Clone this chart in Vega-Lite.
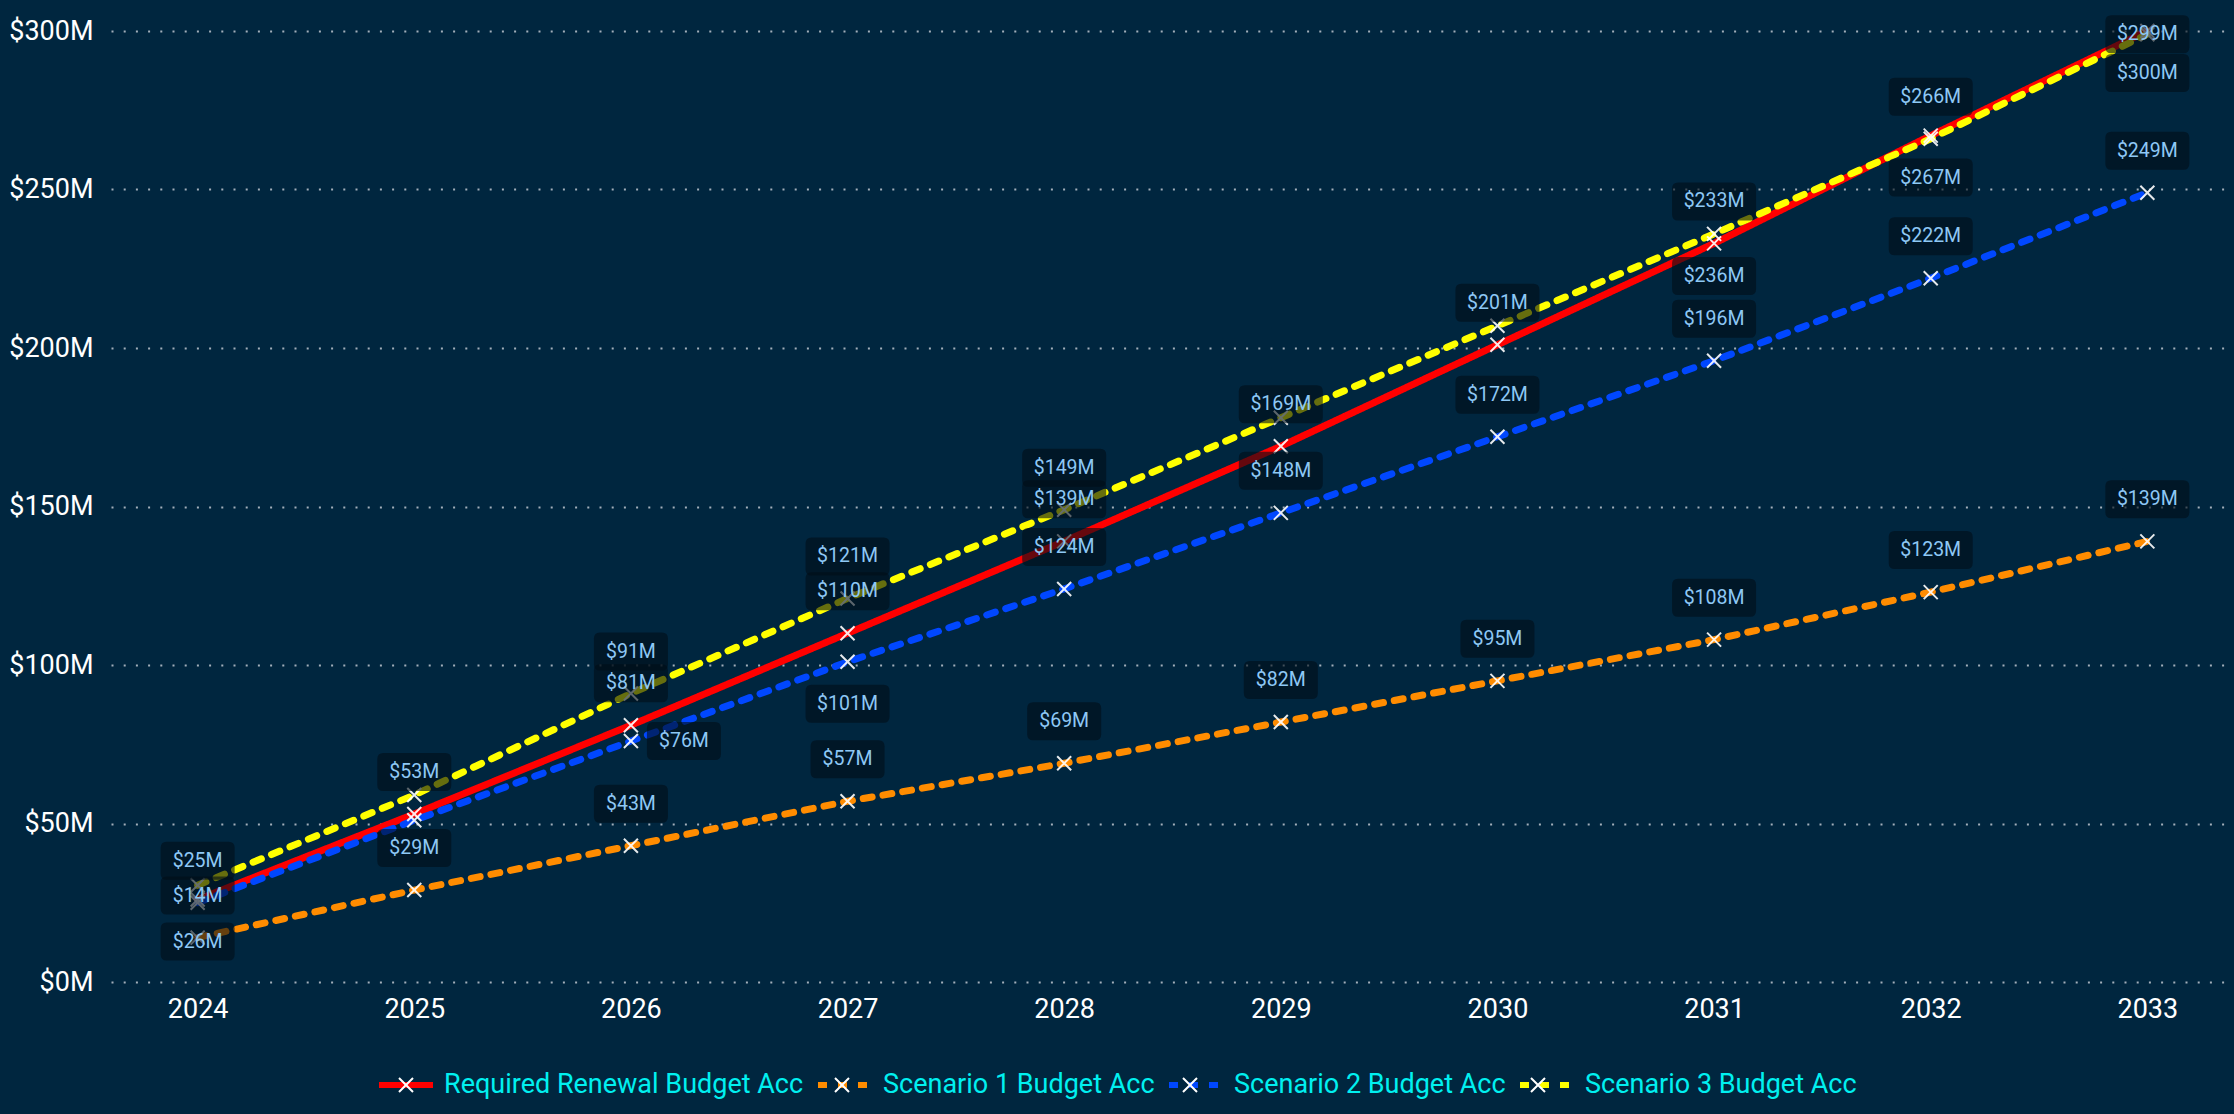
{
  "$schema": "https://vega.github.io/schema/vega-lite/v6.json",
  "width": 2123,
  "height": 951,
  "autosize": {"type": "none"},
  "padding": {"left": 111, "top": 31, "right": 0, "bottom": 132},
  "background": "#00263F",
  "config": {"view": {"stroke": null}, "font": "Roboto"},
  "data": {
    "values": [
      {"series": "Required Renewal Budget Acc", "year": "2024", "value": 26, "label": "$26M"},
      {"series": "Required Renewal Budget Acc", "year": "2025", "value": 53, "label": "$53M"},
      {"series": "Required Renewal Budget Acc", "year": "2026", "value": 81, "label": "$81M"},
      {"series": "Required Renewal Budget Acc", "year": "2027", "value": 110, "label": "$110M"},
      {"series": "Required Renewal Budget Acc", "year": "2028", "value": 139, "label": "$139M"},
      {"series": "Required Renewal Budget Acc", "year": "2029", "value": 169, "label": "$169M"},
      {"series": "Required Renewal Budget Acc", "year": "2030", "value": 201, "label": "$201M"},
      {"series": "Required Renewal Budget Acc", "year": "2031", "value": 233, "label": "$233M"},
      {"series": "Required Renewal Budget Acc", "year": "2032", "value": 267, "label": "$267M"},
      {"series": "Required Renewal Budget Acc", "year": "2033", "value": 300, "label": "$300M"},
      {"series": "Scenario 1 Budget Acc", "year": "2024", "value": 14, "label": "$14M"},
      {"series": "Scenario 1 Budget Acc", "year": "2025", "value": 29, "label": "$29M"},
      {"series": "Scenario 1 Budget Acc", "year": "2026", "value": 43, "label": "$43M"},
      {"series": "Scenario 1 Budget Acc", "year": "2027", "value": 57, "label": "$57M"},
      {"series": "Scenario 1 Budget Acc", "year": "2028", "value": 69, "label": "$69M"},
      {"series": "Scenario 1 Budget Acc", "year": "2029", "value": 82, "label": "$82M"},
      {"series": "Scenario 1 Budget Acc", "year": "2030", "value": 95, "label": "$95M"},
      {"series": "Scenario 1 Budget Acc", "year": "2031", "value": 108, "label": "$108M"},
      {"series": "Scenario 1 Budget Acc", "year": "2032", "value": 123, "label": "$123M"},
      {"series": "Scenario 1 Budget Acc", "year": "2033", "value": 139, "label": "$139M"},
      {"series": "Scenario 2 Budget Acc", "year": "2024", "value": 25, "label": "$25M"},
      {"series": "Scenario 2 Budget Acc", "year": "2025", "value": 51, "label": null},
      {"series": "Scenario 2 Budget Acc", "year": "2026", "value": 76, "label": "$76M"},
      {"series": "Scenario 2 Budget Acc", "year": "2027", "value": 101, "label": "$101M"},
      {"series": "Scenario 2 Budget Acc", "year": "2028", "value": 124, "label": "$124M"},
      {"series": "Scenario 2 Budget Acc", "year": "2029", "value": 148, "label": "$148M"},
      {"series": "Scenario 2 Budget Acc", "year": "2030", "value": 172, "label": "$172M"},
      {"series": "Scenario 2 Budget Acc", "year": "2031", "value": 196, "label": "$196M"},
      {"series": "Scenario 2 Budget Acc", "year": "2032", "value": 222, "label": "$222M"},
      {"series": "Scenario 2 Budget Acc", "year": "2033", "value": 249, "label": "$249M"},
      {"series": "Scenario 3 Budget Acc", "year": "2024", "value": 30.5, "label": null},
      {"series": "Scenario 3 Budget Acc", "year": "2025", "value": 59, "label": null},
      {"series": "Scenario 3 Budget Acc", "year": "2026", "value": 91, "label": "$91M"},
      {"series": "Scenario 3 Budget Acc", "year": "2027", "value": 121, "label": "$121M"},
      {"series": "Scenario 3 Budget Acc", "year": "2028", "value": 149, "label": "$149M"},
      {"series": "Scenario 3 Budget Acc", "year": "2029", "value": 178, "label": null},
      {"series": "Scenario 3 Budget Acc", "year": "2030", "value": 207, "label": null},
      {"series": "Scenario 3 Budget Acc", "year": "2031", "value": 236, "label": "$236M"},
      {"series": "Scenario 3 Budget Acc", "year": "2032", "value": 266, "label": "$266M"},
      {"series": "Scenario 3 Budget Acc", "year": "2033", "value": 299, "label": "$299M"}
    ]
  },
  "encoding": {
    "x": {
      "field": "year", "type": "ordinal",
      "scale": {"type": "point", "padding": 0.4},
      "axis": {"title": null, "labelAngle": 0, "labelFont": "Roboto", "labelFontSize": 27, "labelColor": "#FFFFFF", "labelPadding": 14, "ticks": false, "domain": false, "grid": false}
    },
    "y": {
      "field": "value", "type": "quantitative",
      "scale": {"domain": [0, 300], "nice": false},
      "axis": {"title": null, "values": [0, 50, 100, 150, 200, 250, 300], "labelExpr": "'$' + datum.value + 'M'", "labelFont": "Roboto", "labelFontSize": 27, "labelColor": "#FFFFFF", "labelPadding": 18, "labelLimit": 300, "ticks": false, "domain": false, "grid": true, "gridColor": "#C0C8D0", "gridDash": [2, 10.2], "gridWidth": 2, "gridOpacity": 0.85}
    }
  },
  "layer": [
    {
      "mark": {"type": "line", "strokeWidth": 7, "strokeCap": "round"},
      "encoding": {
        "color": {
          "field": "series", "type": "nominal",
          "scale": {"domain": ["Required Renewal Budget Acc", "Scenario 1 Budget Acc", "Scenario 2 Budget Acc", "Scenario 3 Budget Acc"], "range": ["#FF0000", "#FF8C00", "#0047FF", "#FFFF00"]},
          "legend": {"orient": "none", "legendX": 265, "legendY": 1024, "direction": "horizontal", "columns": 4, "title": null, "padding": 0, "labelFont": "Roboto", "labelFontSize": 27, "labelColor": "#00F0F0", "labelLimit": 1000, "labelOffset": 8, "columnPadding": 2, "symbolType": "stroke", "symbolSize": 2916, "symbolStrokeWidth": 6}
        },
        "strokeDash": {
          "field": "series", "type": "nominal",
          "scale": {"domain": ["Required Renewal Budget Acc", "Scenario 1 Budget Acc", "Scenario 2 Budget Acc", "Scenario 3 Budget Acc"], "range": [[1, 0], [9, 11], [9, 11], [9, 11]]}
        }
      }
    },
    {
      "mark": {"type": "point", "filled": false, "stroke": "#FFFFFF", "strokeWidth": 2, "size": 3364, "opacity": 0.9},
      "encoding": {
        "shape": {
          "field": "series", "type": "nominal",
          "scale": {"range": ["M-1.1,0L-1.1,0M1.1,0L1.1,0M-0.2414,-0.2414L0.2414,0.2414M-0.2414,0.2414L0.2414,-0.2414", "M-1.1,0L-1.1,0M1.1,0L1.1,0M-0.2414,-0.2414L0.2414,0.2414M-0.2414,0.2414L0.2414,-0.2414", "M-1.1,0L-1.1,0M1.1,0L1.1,0M-0.2414,-0.2414L0.2414,0.2414M-0.2414,0.2414L0.2414,-0.2414", "M-1.1,0L-1.1,0M1.1,0L1.1,0M-0.2414,-0.2414L0.2414,0.2414M-0.2414,0.2414L0.2414,-0.2414"]},
          "legend": {"orient": "none", "legendX": 265, "legendY": 1024, "direction": "horizontal", "columns": 4, "title": null, "padding": 0, "labelFont": "Roboto", "labelFontSize": 27, "labelOpacity": 0, "labelLimit": 1000, "labelOffset": 8, "columnPadding": 2, "symbolSize": 3364, "symbolStrokeWidth": 2, "symbolStrokeColor": "#FFFFFF", "symbolFillColor": "transparent", "symbolOpacity": 1}
        }
      }
    },
    {
      "transform": [{"filter": "datum.label != null && !((datum.series=='Required Renewal Budget Acc' && (datum.year=='2024'||datum.year=='2032'||datum.year=='2033')) || (datum.series=='Scenario 2 Budget Acc' && (datum.year=='2027'||datum.year=='2026')) || (datum.series=='Scenario 3 Budget Acc' && (datum.year=='2031'||datum.year=='2033')))"}],
      "layer": [
        {"mark": {"type": "point", "filled": true, "fill": "#000E18", "fillOpacity": 0.6, "opacity": 1, "strokeWidth": 0, "size": 1600, "yOffset": -42},
         "encoding": {"shape": {"condition": {"test": "datum.value >= 99.5", "value": "M-1.8,-0.95L1.8,-0.95Q2.1,-0.95 2.1,-0.65L2.1,0.65Q2.1,0.95 1.8,0.95L-1.8,0.95Q-2.1,0.95 -2.1,0.65L-2.1,-0.65Q-2.1,-0.95 -1.8,-0.95Z"}, "value": "M-1.55,-0.95L1.55,-0.95Q1.85,-0.95 1.85,-0.65L1.85,0.65Q1.85,0.95 1.55,0.95L-1.55,0.95Q-1.85,0.95 -1.85,0.65L-1.85,-0.65Q-1.85,-0.95 -1.55,-0.95Z"}}},
        {"mark": {"type": "text", "font": "Roboto", "fontSize": 19.5, "color": "#8EC8F5", "baseline": "middle", "align": "center", "yOffset": -42},
         "encoding": {"text": {"field": "label"}}}
      ]
    },
    {
      "transform": [{"filter": "(datum.series=='Required Renewal Budget Acc' && (datum.year=='2024'||datum.year=='2032'||datum.year=='2033')) || (datum.series=='Scenario 2 Budget Acc' && datum.year=='2027') || (datum.series=='Scenario 3 Budget Acc' && datum.year=='2031')"}],
      "layer": [
        {"mark": {"type": "point", "filled": true, "fill": "#000E18", "fillOpacity": 0.6, "opacity": 1, "strokeWidth": 0, "size": 1600, "yOffset": 42},
         "encoding": {"shape": {"condition": {"test": "datum.value >= 99.5", "value": "M-1.8,-0.95L1.8,-0.95Q2.1,-0.95 2.1,-0.65L2.1,0.65Q2.1,0.95 1.8,0.95L-1.8,0.95Q-2.1,0.95 -2.1,0.65L-2.1,-0.65Q-2.1,-0.95 -1.8,-0.95Z"}, "value": "M-1.55,-0.95L1.55,-0.95Q1.85,-0.95 1.85,-0.65L1.85,0.65Q1.85,0.95 1.55,0.95L-1.55,0.95Q-1.85,0.95 -1.85,0.65L-1.85,-0.65Q-1.85,-0.95 -1.55,-0.95Z"}}},
        {"mark": {"type": "text", "font": "Roboto", "fontSize": 19.5, "color": "#8EC8F5", "baseline": "middle", "align": "center", "yOffset": 42},
         "encoding": {"text": {"field": "label"}}}
      ]
    },
    {
      "transform": [{"filter": "datum.series=='Scenario 3 Budget Acc' && datum.year=='2033'"}],
      "layer": [
        {"mark": {"type": "point", "filled": true, "fill": "#000E18", "fillOpacity": 0.6, "opacity": 1, "strokeWidth": 0, "size": 1600},
         "encoding": {"shape": {"value": "M-1.8,-0.95L1.8,-0.95Q2.1,-0.95 2.1,-0.65L2.1,0.65Q2.1,0.95 1.8,0.95L-1.8,0.95Q-2.1,0.95 -2.1,0.65L-2.1,-0.65Q-2.1,-0.95 -1.8,-0.95Z"}}},
        {"mark": {"type": "text", "font": "Roboto", "fontSize": 19.5, "color": "#8EC8F5", "baseline": "middle", "align": "center"},
         "encoding": {"text": {"field": "label"}}}
      ]
    },
    {
      "transform": [{"filter": "datum.series=='Scenario 2 Budget Acc' && datum.year=='2026'"}],
      "layer": [
        {"mark": {"type": "point", "filled": true, "fill": "#000E18", "fillOpacity": 0.6, "opacity": 1, "strokeWidth": 0, "size": 1600, "xOffset": 53},
         "encoding": {"shape": {"value": "M-1.55,-0.95L1.55,-0.95Q1.85,-0.95 1.85,-0.65L1.85,0.65Q1.85,0.95 1.55,0.95L-1.55,0.95Q-1.85,0.95 -1.85,0.65L-1.85,-0.65Q-1.85,-0.95 -1.55,-0.95Z"}}},
        {"mark": {"type": "text", "font": "Roboto", "fontSize": 19.5, "color": "#8EC8F5", "baseline": "middle", "align": "center", "xOffset": 53},
         "encoding": {"text": {"field": "label"}}}
      ]
    }
  ]
}
